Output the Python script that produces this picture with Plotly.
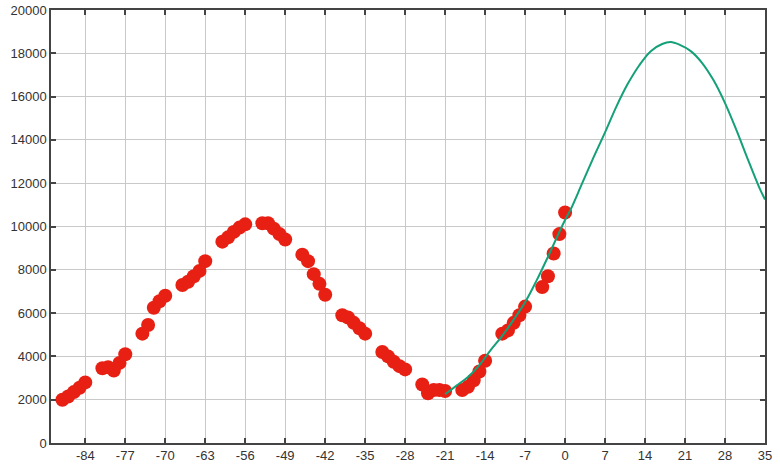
import plotly.graph_objs as go

# observed daily values (red dots)
obs_days = [-88, -87, -86, -85, -84,
            -81, -80, -79, -78, -77,
            -74, -73, -72, -71, -70,
            -67, -66, -65, -64, -63,
            -60, -59, -58, -57, -56,
            -53, -52, -51, -50, -49,
            -46, -45, -44, -43, -42,
            -39, -38, -37, -36, -35,
            -32, -31, -30, -29, -28,
            -25, -24, -23, -22, -21,
            -18, -17, -16, -15, -14,
            -11, -10, -9, -8, -7,
            -4, -3, -2, -1, 0]
obs_values = [2000, 2150, 2350, 2550, 2800,
              3450, 3500, 3350, 3700, 4100,
              5050, 5450, 6250, 6550, 6800,
              7300, 7450, 7700, 7950, 8400,
              9300, 9500, 9750, 9950, 10100,
              10150, 10150, 9900, 9650, 9400,
              8700, 8400, 7800, 7350, 6850,
              5900, 5800, 5550, 5300, 5050,
              4200, 4000, 3750, 3550, 3400,
              2700, 2300, 2450, 2450, 2400,
              2450, 2600, 2900, 3300, 3800,
              5050, 5200, 5550, 5900, 6300,
              7200, 7700, 8750, 9650, 10650]

# fitted curve (green line)
fit_days = [-21, -19, -17, -15, -13, -11, -9, -7, -5, -3, -1, 0, 1, 3, 5, 7, 9,
            11, 13, 15, 17, 18.5, 20, 22, 24, 26, 28, 30, 32, 34, 35]
fit_values = [2250, 2650, 3050, 3600, 4300, 4950, 5700, 6500, 7500, 8600, 9750,
              10300, 10800, 12000, 13200, 14350, 15550, 16600, 17450, 18100,
              18430, 18520, 18400, 18100, 17550, 16750, 15700, 14450, 13100,
              11800, 11250]

x_ticks = [-84, -77, -70, -63, -56, -49, -42, -35, -28, -21, -14, -7, 0, 7, 14, 21, 28, 35]
x_labels = [str(v) for v in x_ticks]
y_ticks = list(range(0, 20001, 2000))

fig = go.Figure()

fig.add_trace(go.Scatter(
    x=obs_days,
    y=obs_values,
    mode='markers',
    marker=dict(size=14, color='rgb(232, 32, 20)', line=dict(width=0)),
    showlegend=False
))

fig.add_trace(go.Scatter(
    x=fit_days,
    y=fit_values,
    mode='lines',
    line=dict(color='#14a078', width=2, shape='spline'),
    showlegend=False
))

axis_style = dict(
    showgrid=True,
    gridcolor='#c9c9c9',
    gridwidth=1.2,
    zeroline=False,
    showline=True,
    linecolor='#444444',
    linewidth=1.5,
    mirror='ticks',
    ticks='inside',
    ticklen=5,
    tickwidth=1.5,
    tickcolor='#444444',
    automargin=False,
    tickfont=dict(family='Liberation Sans, Arial', size=13, color='#333333'),
)

fig.update_layout(
    width=780,
    height=470,
    margin=dict(l=51, r=15, t=10, b=27),
    plot_bgcolor='white',
    paper_bgcolor='white',
    xaxis=dict(range=[-90, 35], tickvals=x_ticks, ticktext=x_labels, **axis_style),
    yaxis=dict(range=[0, 20000], tickvals=y_ticks, tickformat='d', **axis_style),
)

# drop the default page margin so the figure sits at the window's corner
fig.write_html("out.html", config={'displayModeBar': False},
               post_script="document.body.style.margin='0';")
